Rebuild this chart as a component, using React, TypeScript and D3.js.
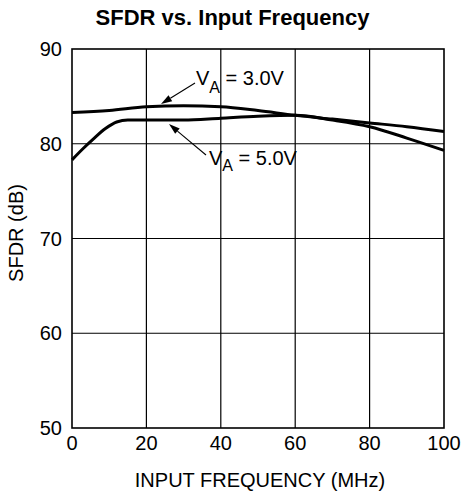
import React from "react";
import * as d3 from "d3";

const xTicks = [0, 20, 40, 60, 80, 100];
const yTicks = [50, 60, 70, 80, 90];

// V_A = 3.0V curve
const freq3 = [0, 10, 20, 30, 40, 50, 60, 70, 80, 90, 100];
const sfdr3 = [83.3, 83.5, 83.9, 84.0, 83.9, 83.5, 83.0, 82.6, 82.2, 81.8, 81.3];

// V_A = 5.0V curve
const freq5 = [0, 3, 6, 9, 12, 15, 20, 30, 40, 50, 60, 70, 80, 90, 100];
const sfdr5 = [78.3, 79.5, 80.6, 81.6, 82.3, 82.5, 82.5, 82.5, 82.7, 82.9, 83.0, 82.5, 81.8, 80.6, 79.3];

const W = 464;
const H = 496;
const left = 72;
const right = 444;
const top = 49;
const bottom = 428;

export default function App() {
  const x = d3.scaleLinear().domain([0, 100]).range([left, right]);
  const y = d3.scaleLinear().domain([50, 90]).range([bottom, top]);
  const line = d3
    .line<[number, number]>()
    .x((d) => x(d[0]))
    .y((d) => y(d[1]))
    .curve(d3.curveMonotoneX);
  const d3v = line(freq3.map((f, i) => [f, sfdr3[i]]) as [number, number][]) || "";
  const d5v = line(freq5.map((f, i) => [f, sfdr5[i]]) as [number, number][]) || "";
  const font = "'Liberation Sans', Arial, Helvetica, sans-serif";

  const arrow = (x1: number, y1: number, x2: number, y2: number) => {
    const ang = Math.atan2(y2 - y1, x2 - x1);
    const len = 11;
    const w = 3.5;
    const bx = x2 - len * Math.cos(ang);
    const by = y2 - len * Math.sin(ang);
    const px = -Math.sin(ang) * w;
    const py = Math.cos(ang) * w;
    return (
      <g>
        <line x1={x1} y1={y1} x2={bx} y2={by} stroke="#000" strokeWidth={1.1} />
        <polygon points={`${x2},${y2} ${bx + px},${by + py} ${bx - px},${by - py}`} fill="#000" />
      </g>
    );
  };

  return (
    <svg width={W} height={H} style={{ position: "absolute", left: 0, top: 0, background: "#fff" }}>
      <rect x={0} y={0} width={W} height={H} fill="#fff" />
      <text x={232.5} y={25} textAnchor="middle" fontFamily={font} fontWeight="bold" fontSize={22}>
        SFDR vs. Input Frequency
      </text>
      {xTicks.slice(1, -1).map((t) => (
        <line key={"gx" + t} x1={x(t)} x2={x(t)} y1={top} y2={bottom} stroke="#000" strokeWidth={1.2} />
      ))}
      {yTicks.slice(1, -1).map((t) => (
        <line key={"gy" + t} x1={left} x2={right} y1={y(t)} y2={y(t)} stroke="#000" strokeWidth={1.2} />
      ))}
      <rect x={left} y={top} width={right - left} height={bottom - top} fill="none" stroke="#000" strokeWidth={1.6} />
      {yTicks.map((t) => (
        <text key={"yl" + t} x={62} y={y(t) + 7} textAnchor="end" fontFamily={font} fontSize={20}>
          {t}
        </text>
      ))}
      {xTicks.map((t) => (
        <text key={"xl" + t} x={x(t)} y={450} textAnchor="middle" fontFamily={font} fontSize={20}>
          {t}
        </text>
      ))}
      <text x={260} y={487} textAnchor="middle" fontFamily={font} fontSize={20}>
        INPUT FREQUENCY (MHz)
      </text>
      <text
        transform={`translate(23,233) rotate(-90)`}
        textAnchor="middle"
        fontFamily={font}
        fontSize={20}
      >
        SFDR (dB)
      </text>
      <path d={d3v} fill="none" stroke="#000" strokeWidth={3} />
      <path d={d5v} fill="none" stroke="#000" strokeWidth={3} />
      {arrow(195, 83, 161, 104)}
      <text x={196} y={85} fontFamily={font} fontSize={20}>
        V<tspan dy={8} fontSize={16}>A</tspan>
        <tspan dy={-8}> = 3.0V</tspan>
      </text>
      {arrow(206, 155, 169, 124)}
      <text x={209} y={165} fontFamily={font} fontSize={20}>
        V<tspan dy={6} fontSize={16}>A</tspan>
        <tspan dy={-6}> = 5.0V</tspan>
      </text>
    </svg>
  );
}
